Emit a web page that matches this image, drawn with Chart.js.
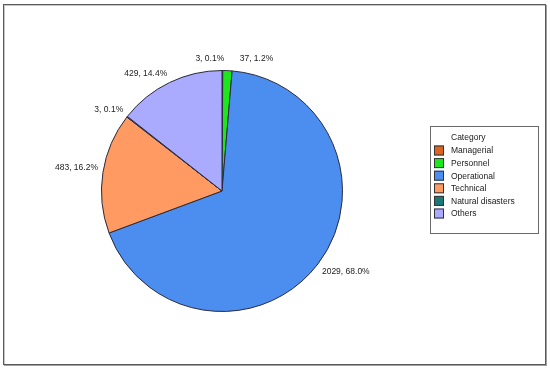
<!DOCTYPE html>
<html>
<head>
<meta charset="utf-8">
<script src="https://cdn.jsdelivr.net/npm/chart.js@4.4.0/dist/chart.umd.min.js"></script>
<style>
  html, body { margin: 0; padding: 0; background: #fff; }
  #wrap { position: relative; width: 550px; height: 369px; }
  #frame { position: absolute; left: 3px; top: 4px; width: 541px; height: 359px;
           border: 1px solid #5a5a5a; box-shadow: inset 1px 1px 0 #c8c8c8, 1px 1px 0 #a0a0a0; }
  canvas { position: absolute; left: 0; top: 0; }
</style>
</head>
<body>
<div id="wrap">
  <div id="frame"></div>
  <canvas id="pieChart" width="550" height="369"></canvas>
</div>
<script>
// DATA
const categories = ["Managerial", "Personnel", "Operational", "Technical", "Natural disasters", "Others"];
const counts = [3, 37, 2029, 483, 3, 429];
const sliceColors = ["#dc6420", "#1ee61e", "#4c8ef0", "#ff9a62", "#1b7878", "#aaaaff"];
const legendTitle = "Category";

const total = counts.reduce((s, v) => s + v, 0);
const FONT = "8.5px 'Liberation Sans', Arial, sans-serif";

// small nudges for the crowded labels at the top
const labelNudge = { 0: [-27, -3], 1: [12, -3] };

// outside labels "value, pct%"
const sliceLabels = {
  id: "sliceLabels",
  afterDatasetsDraw(chart) {
    const c = chart.ctx;
    const meta = chart.getDatasetMeta(0);
    c.save();
    c.font = FONT;
    c.fillStyle = "#1a1a1a";
    meta.data.forEach((arc, i) => {
      const mid = (arc.startAngle + arc.endAngle) / 2;
      const r = arc.outerRadius + 5;
      const nudge = labelNudge[i] || [0, 0];
      const x = arc.x + r * Math.cos(mid) + nudge[0];
      const y = arc.y + r * Math.sin(mid) + nudge[1];
      c.textAlign = Math.cos(mid) >= 0 ? "left" : "right";
      c.textBaseline = Math.sin(mid) < 0 ? "bottom" : "top";
      const pct = ((counts[i] / total) * 100).toFixed(1);
      c.fillText(counts[i] + ", " + pct + "%", x, y);
    });
    c.restore();
  },
};

// boxed legend on the right
const boxLegend = {
  id: "boxLegend",
  afterDraw(chart) {
    const c = chart.ctx;
    const left = 430, top = 126, w = 108, h = 107;
    c.save();
    c.strokeStyle = "#6a6a6a";
    c.lineWidth = 1;
    c.strokeRect(left + 0.5, top + 0.5, w, h);
    c.font = FONT;
    c.fillStyle = "#1a1a1a";
    c.textAlign = "left";
    c.textBaseline = "middle";
    c.fillText(legendTitle, 451, 137.5);
    chart.data.labels.forEach((lab, i) => {
      const cy = 150.5 + i * 12.6;
      c.fillStyle = chart.data.datasets[0].backgroundColor[i];
      c.fillRect(434, cy - 5, 10, 10);
      c.strokeStyle = "#333";
      c.strokeRect(434.5, cy - 4.5, 9, 9);
      c.fillStyle = "#1a1a1a";
      c.fillText(lab, 451, cy + 0.5);
    });
    c.restore();
  },
};

const ctx = document.getElementById("pieChart").getContext("2d");
new Chart(ctx, {
  type: "pie",
  data: {
    labels: categories,
    datasets: [
      {
        data: counts,
        backgroundColor: sliceColors,
        borderColor: "#2a2a3a",
        borderWidth: 1,
      },
    ],
  },
  options: {
    responsive: false,
    animation: false,
    layout: { padding: { left: 101, right: 207, top: 70, bottom: 57 } },
    plugins: {
      legend: { display: false },
      tooltip: { enabled: false },
    },
  },
  plugins: [sliceLabels, boxLegend],
});
</script>
</body>
</html>
